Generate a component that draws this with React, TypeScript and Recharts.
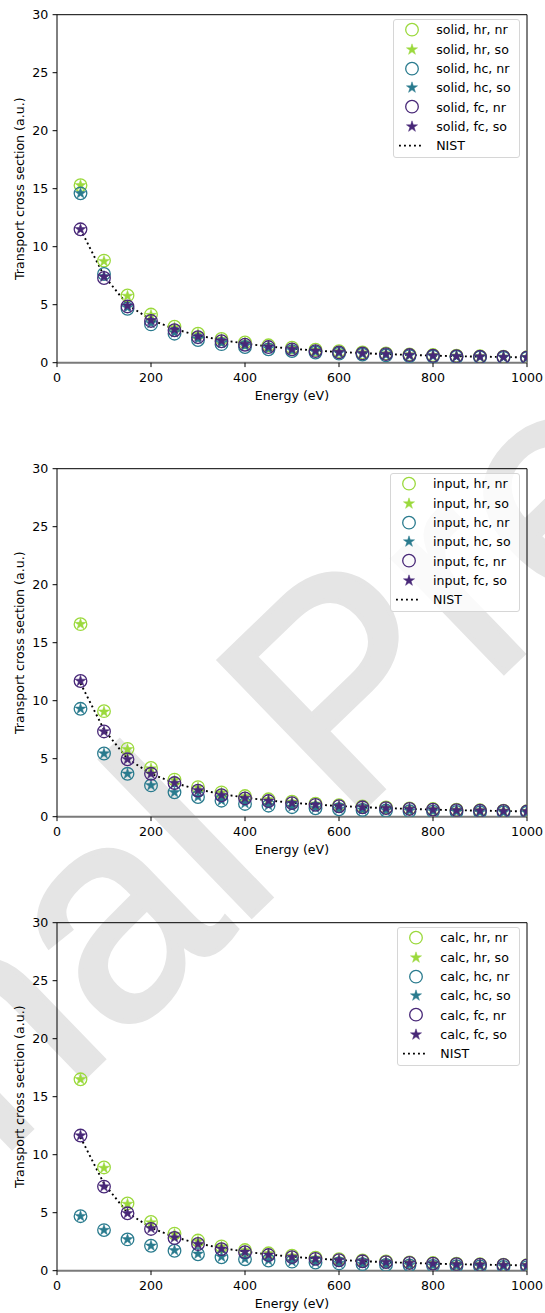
import React from 'react';
import { ComposedChart, Line, XAxis, YAxis, Legend, Symbols, ReferenceLine } from 'recharts';

const ENERGY = [50, 100, 150, 200, 250, 300, 350, 400, 450, 500, 550, 600, 650, 700, 750, 800, 850, 900, 950, 1000];
const NIST = [11.5, 7.5, 5.0, 3.7, 2.9, 2.35, 1.95, 1.65, 1.4, 1.2, 1.05, 0.92, 0.82, 0.74, 0.67, 0.61, 0.56, 0.52, 0.49, 0.46];

// solid
const SOLID_HR_NR = [15.3, 8.8, 5.8, 4.15, 3.1, 2.5, 2.05, 1.75, 1.5, 1.3, 1.12, 1.0, 0.88, 0.8, 0.72, 0.66, 0.6, 0.55, 0.51, 0.48];
const SOLID_HR_SO = [15.3, 8.75, 5.75, 4.1, 3.05, 2.48, 2.03, 1.73, 1.48, 1.28, 1.11, 0.99, 0.87, 0.79, 0.71, 0.65, 0.6, 0.55, 0.51, 0.48];
const SOLID_HC_NR = [14.6, 7.65, 4.65, 3.3, 2.5, 1.95, 1.6, 1.35, 1.15, 1.0, 0.88, 0.78, 0.7, 0.63, 0.57, 0.53, 0.49, 0.45, 0.42, 0.4];
const SOLID_HC_SO = [14.6, 7.45, 4.75, 3.4, 2.6, 2.05, 1.7, 1.45, 1.22, 1.06, 0.93, 0.83, 0.74, 0.67, 0.61, 0.56, 0.52, 0.48, 0.45, 0.42];
const SOLID_FC_NR = [11.5, 7.3, 4.85, 3.6, 2.8, 2.2, 1.85, 1.55, 1.35, 1.15, 1.0, 0.89, 0.8, 0.74, 0.66, 0.6, 0.56, 0.52, 0.49, 0.46];
const SOLID_FC_SO = [11.5, 7.4, 4.9, 3.65, 2.85, 2.25, 1.88, 1.6, 1.38, 1.18, 1.03, 0.91, 0.82, 0.75, 0.67, 0.61, 0.56, 0.52, 0.49, 0.46];

// input
const INPUT_HR_NR = [16.6, 9.1, 5.85, 4.2, 3.2, 2.55, 2.1, 1.78, 1.5, 1.3, 1.13, 1.0, 0.89, 0.8, 0.72, 0.66, 0.6, 0.55, 0.51, 0.48];
const INPUT_HR_SO = [16.6, 9.05, 5.8, 4.15, 3.15, 2.52, 2.08, 1.76, 1.49, 1.29, 1.12, 0.99, 0.88, 0.79, 0.71, 0.65, 0.6, 0.55, 0.51, 0.48];
const INPUT_HC_NR = [9.3, 5.45, 3.7, 2.7, 2.1, 1.7, 1.38, 1.1, 0.95, 0.82, 0.72, 0.64, 0.58, 0.53, 0.48, 0.44, 0.41, 0.38, 0.36, 0.34];
const INPUT_HC_SO = [9.3, 5.45, 3.7, 2.7, 2.1, 1.72, 1.4, 1.15, 0.98, 0.85, 0.75, 0.67, 0.6, 0.55, 0.5, 0.46, 0.42, 0.39, 0.37, 0.35];
const INPUT_FC_NR = [11.7, 7.35, 4.95, 3.7, 2.9, 2.25, 1.85, 1.58, 1.35, 1.17, 1.02, 0.9, 0.81, 0.74, 0.67, 0.61, 0.56, 0.52, 0.49, 0.46];
const INPUT_FC_SO = [11.7, 7.35, 4.95, 3.7, 2.9, 2.27, 1.87, 1.6, 1.37, 1.18, 1.03, 0.91, 0.82, 0.75, 0.67, 0.61, 0.56, 0.52, 0.49, 0.46];

// calc
const CALC_HR_NR = [16.5, 8.9, 5.8, 4.2, 3.2, 2.6, 2.1, 1.78, 1.5, 1.3, 1.13, 1.0, 0.89, 0.8, 0.72, 0.66, 0.6, 0.55, 0.51, 0.48];
const CALC_HR_SO = [16.5, 8.85, 5.75, 4.15, 3.15, 2.55, 2.08, 1.76, 1.49, 1.29, 1.12, 0.99, 0.88, 0.79, 0.71, 0.65, 0.6, 0.55, 0.51, 0.48];
const CALC_HC_NR = [4.7, 3.5, 2.7, 2.15, 1.72, 1.42, 1.15, 0.99, 0.88, 0.78, 0.7, 0.63, 0.56, 0.5, 0.46, 0.42, 0.39, 0.36, 0.33, 0.31];
const CALC_HC_SO = [4.7, 3.5, 2.7, 2.15, 1.75, 1.45, 1.2, 1.03, 0.9, 0.8, 0.72, 0.65, 0.58, 0.52, 0.48, 0.44, 0.41, 0.38, 0.35, 0.33];
const CALC_FC_NR = [11.65, 7.25, 4.95, 3.6, 2.82, 2.3, 1.86, 1.6, 1.35, 1.17, 1.02, 0.9, 0.81, 0.74, 0.67, 0.61, 0.56, 0.52, 0.49, 0.46];
const CALC_FC_SO = [11.65, 7.25, 4.95, 3.65, 2.85, 2.3, 1.88, 1.62, 1.37, 1.18, 1.03, 0.91, 0.82, 0.75, 0.67, 0.61, 0.56, 0.52, 0.49, 0.46];

const X_TICKS = [0, 200, 400, 600, 800, 1000];
const Y_TICKS = [0, 5, 10, 15, 20, 25, 30];
const X_MAX = 1000;
const Y_MAX = 30;

const FONT = 'DejaVu Sans';
const HR = '#9bd93c';
const HC = '#2a7b8e';
const FC = '#482878';

const SERIES = [
  { key: 'hrNr', tag: 'hr, nr', color: HR, star: false },
  { key: 'hrSo', tag: 'hr, so', color: HR, star: true },
  { key: 'hcNr', tag: 'hc, nr', color: HC, star: false },
  { key: 'hcSo', tag: 'hc, so', color: HC, star: true },
  { key: 'fcNr', tag: 'fc, nr', color: FC, star: false },
  { key: 'fcSo', tag: 'fc, so', color: FC, star: true },
];

function buildRows(cols: Record<string, number[]>) {
  return ENERGY.map((e, i) => {
    const row: Record<string, number> = { e, nist: NIST[i] };
    for (const k of Object.keys(cols)) row[k] = cols[k][i];
    return row;
  });
}

const PANELS = [
  { prefix: 'solid', rows: buildRows({ hrNr: SOLID_HR_NR, hrSo: SOLID_HR_SO, hcNr: SOLID_HC_NR, hcSo: SOLID_HC_SO, fcNr: SOLID_FC_NR, fcSo: SOLID_FC_SO }) },
  { prefix: 'input', rows: buildRows({ hrNr: INPUT_HR_NR, hrSo: INPUT_HR_SO, hcNr: INPUT_HC_NR, hcSo: INPUT_HC_SO, fcNr: INPUT_FC_NR, fcSo: INPUT_FC_SO }) },
  { prefix: 'calc', rows: buildRows({ hrNr: CALC_HR_NR, hrSo: CALC_HR_SO, hcNr: CALC_HC_NR, hcSo: CALC_HC_SO, fcNr: CALC_FC_NR, fcSo: CALC_FC_SO }) },
];

const ring = (color: string) => (p: any) => (
  <circle key={`r-${p.index}`} cx={p.cx} cy={p.cy} r={6.3} fill="none" stroke={color} strokeWidth={1.3} />
);

const star = (color: string) => (p: any) => (
  <Symbols key={`s-${p.index}`} cx={p.cx} cy={p.cy} type="star" size={38} fill={color} stroke={color} strokeWidth={0.5} />
);

function LegendBox({ prefix }: { prefix: string }) {
  return (
    <div
      style={{
        border: '1px solid #d6d6d6',
        borderRadius: 3,
        background: 'rgba(255,255,255,0.8)',
        padding: '0 8px 2px 0',
        fontFamily: FONT,
        fontSize: 12.6,
        color: '#000',
        whiteSpace: 'nowrap',
      }}
    >
      {SERIES.map((s) => (
        <div key={s.key} style={{ display: 'flex', alignItems: 'center', height: 19.3 }}>
          <svg width={42} height={19.3} style={{ flex: 'none' }}>
            {s.star ? (
              <Symbols cx={18} cy={9.65} type="star" size={38} fill={s.color} stroke={s.color} strokeWidth={0.5} />
            ) : (
              <circle cx={18} cy={9.65} r={6.3} fill="none" stroke={s.color} strokeWidth={1.3} />
            )}
          </svg>
          <span>{`${prefix}, ${s.tag}`}</span>
        </div>
      ))}
      <div style={{ display: 'flex', alignItems: 'center', height: 19.3 }}>
        <svg width={42} height={19.3} style={{ flex: 'none' }}>
          <line x1={5} x2={30} y1={9.65} y2={9.65} stroke="#000" strokeWidth={1.9} strokeDasharray="1.9 3.1" />
        </svg>
        <span>NIST</span>
      </div>
    </div>
  );
}

const XLabel = (props: any) => {
  const vb = props.viewBox;
  return (
    <text x={vb.x + vb.width / 2} y={vb.y + vb.height} textAnchor="middle" fontFamily={FONT} fontSize={12.6} fill="#000">
      Energy (eV)
    </text>
  );
};

const YLabel = (props: any) => {
  const vb = props.viewBox;
  const cx = 20;
  const cy = vb.y + vb.height / 2;
  return (
    <text x={cx} y={cy} transform={`rotate(-90 ${cx} ${cy})`} textAnchor="middle" dominantBaseline="central" fontFamily={FONT} fontSize={12.6} fill="#000">
      Transport cross section (a.u.)
    </text>
  );
};

function Panel({ prefix, rows }: { prefix: string; rows: Record<string, number>[] }) {
  const tick = { fill: '#000', fontSize: 12.6, fontFamily: FONT };
  return (
    <ComposedChart width={545} height={454} data={rows} margin={{ top: 14.7, right: 18, bottom: 54.3, left: 0 }}>
      <XAxis
        dataKey="e"
        type="number"
        domain={[0, X_MAX]}
        ticks={X_TICKS}
        allowDataOverflow
        height={37}
        tickSize={4.4}
        tickMargin={6}
        axisLine={{ stroke: '#7a7a7a', strokeWidth: 2 }}
        tickLine={{ stroke: '#000' }}
        tick={tick}
        label={{ content: XLabel }}
      />
      <YAxis
        type="number"
        domain={[0, Y_MAX]}
        ticks={Y_TICKS}
        allowDataOverflow
        width={57}
        tickSize={4.4}
        tickMargin={4.4}
        axisLine={{ stroke: '#000' }}
        tickLine={{ stroke: '#000' }}
        tick={tick}
        label={{ content: YLabel }}
      />
      {/* top and right spines */}
      <ReferenceLine y={Y_MAX} stroke="#000" strokeWidth={1} ifOverflow="visible" />
      <ReferenceLine x={X_MAX} stroke="#000" strokeWidth={1} ifOverflow="visible" />
      {SERIES.map((s) => (
        <Line
          key={s.key}
          dataKey={s.key}
          stroke="none"
          dot={s.star ? star(s.color) : ring(s.color)}
          activeDot={false}
          legendType="none"
          isAnimationActive={false}
        />
      ))}
      <Line
        dataKey="nist"
        type="linear"
        stroke="#000"
        strokeWidth={1.9}
        strokeDasharray="1.9 3.1"
        dot={false}
        activeDot={false}
        isAnimationActive={false}
      />
      <Legend
        layout="vertical"
        align="center"
        verticalAlign="middle"
        wrapperStyle={{ top: 19.3, right: 25.4, left: 'auto', width: 'auto' }}
        content={() => <LegendBox prefix={prefix} />}
      />
    </ComposedChart>
  );
}

export default function App() {
  return (
    <div style={{ position: 'absolute', left: 0, top: 0, width: 545, height: 1313, overflow: 'hidden', background: '#fff' }}>
      {/* "Journal Pre-proof" watermark behind the figure */}
      <svg width={545} height={1313} style={{ position: 'absolute', left: 0, top: 0 }}>
        <text
          x={411}
          y={762}
          transform="rotate(-44 411 762)"
          textAnchor="middle"
          fontFamily="Liberation Sans"
          fontSize={300}
          fill="#e5e5e5"
          stroke="#e5e5e5"
          strokeWidth={5}
        >
          Journal Pre-proof
        </text>
      </svg>
      <div style={{ position: 'absolute', left: 0, top: 0 }}>
        {PANELS.map((p) => (
          <div key={p.prefix} style={{ width: 545, height: 454 }}>
            <Panel prefix={p.prefix} rows={p.rows} />
          </div>
        ))}
      </div>
    </div>
  );
}
